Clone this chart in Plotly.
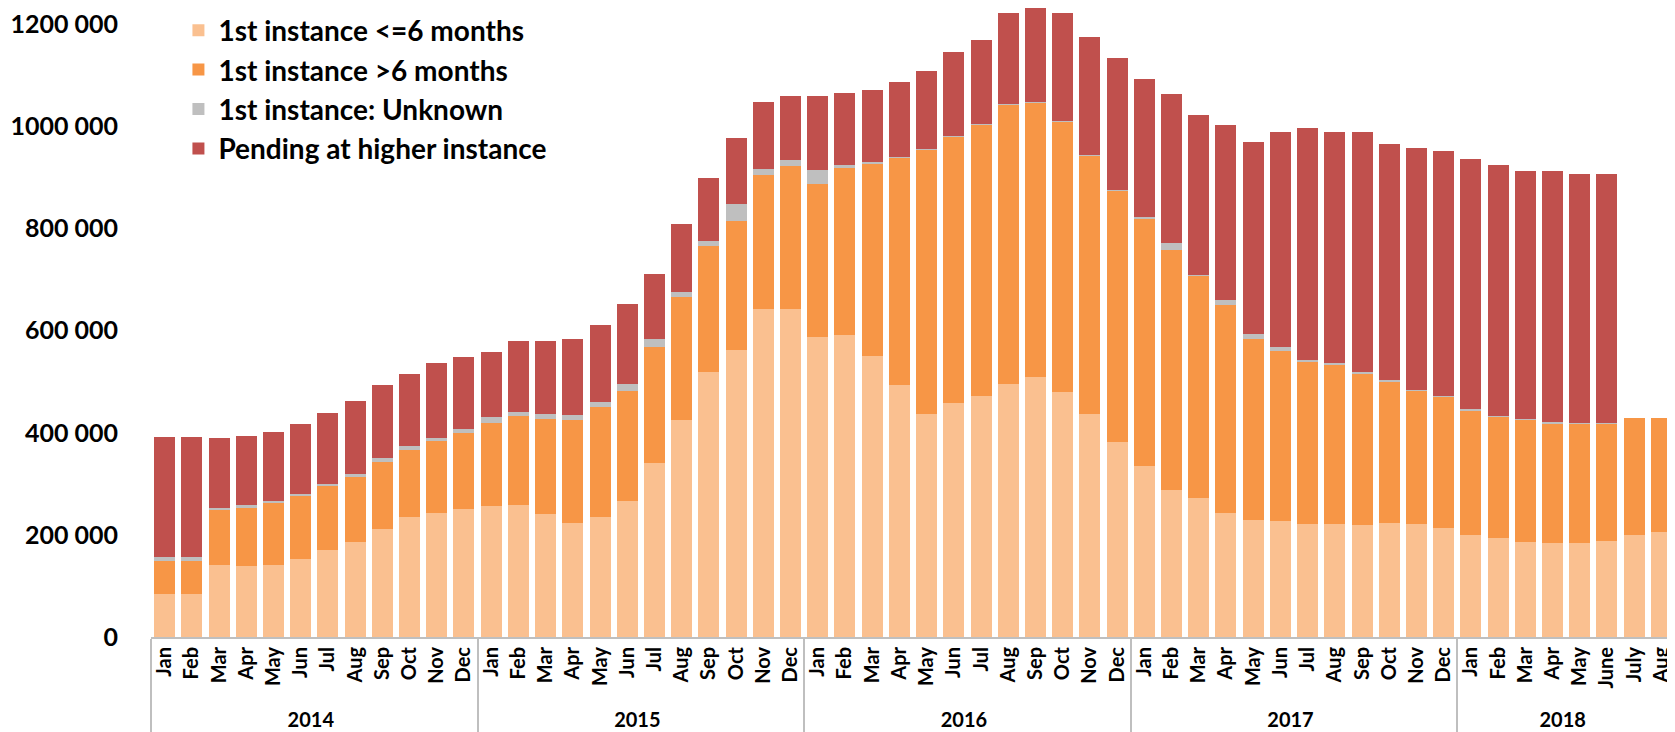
import plotly.graph_objects as go

# Month / year categories (Jan 2014 - Aug 2018)
months_std = ["Jan", "Feb", "Mar", "Apr", "May", "Jun", "Jul", "Aug", "Sep", "Oct", "Nov", "Dec"]
# "Aug\u200b" keeps the 2018 August after June/July on the multicategory axis
months_2018 = ["Jan", "Feb", "Mar", "Apr", "May", "June", "July", "Aug\u200b"]
years = ["2014", "2015", "2016", "2017", "2018"]

# Values in thousands of cases
first_le6 = [
    84, 84, 141, 139, 141, 153, 170, 186, 212, 236, 243, 250,
    257, 259, 240, 224, 236, 267, 340, 425, 520, 563, 643, 643,
    588, 591, 551, 494, 437, 458, 472, 496, 510, 479, 437, 382,
    335, 287, 273, 243, 230, 228, 221, 221, 219, 223, 221, 214,
    199, 194, 187, 185, 185, 189, 199, 205,
]
first_gt6 = [
    64, 64, 107, 113, 122, 124, 125, 128, 130, 130, 140, 149,
    163, 173, 187, 201, 215, 215, 229, 241, 246, 251, 261, 280,
    299, 328, 377, 446, 518, 522, 532, 546, 537, 530, 506, 492,
    485, 471, 436, 407, 354, 332, 319, 311, 297, 278, 261, 257,
    245, 238, 239, 234, 234, 230, 229, 223,
]
first_unknown = [
    9, 9, 5, 7, 4, 4, 4, 6, 9, 9, 6, 9,
    10, 9, 9, 9, 9, 14, 15, 10, 10, 35, 12, 11,
    28, 5, 2, 1, 1, 1, 1, 1, 1, 1, 1, 1,
    2, 13, 1, 11, 9, 9, 3, 4, 4, 3, 2, 1,
    3, 1, 1, 2, 1, 1, 0, 0,
]
higher_instance = [
    235, 235, 136, 135, 134, 137, 140, 143, 143, 141, 148, 140,
    128, 139, 144, 150, 152, 157, 127, 133, 123, 128, 132, 126,
    145, 141, 141, 147, 152, 164, 164, 180, 202, 213, 231, 260,
    270, 293, 312, 341, 376, 420, 454, 453, 469, 461, 473, 479,
    489, 492, 485, 491, 486, 486, 0, 0,
]

y_ticks = [0, 200000, 400000, 600000, 800000, 1000000, 1200000]
y_tick_text = ["0", "200 000", "400 000", "600 000", "800 000", "1000 000", "1200 000"]

x_years, x_months = [], []
for y in years:
    ms = months_2018 if y == "2018" else months_std
    x_years += [y] * len(ms)
    x_months += ms

series = [
    ("1st instance <=6 months", first_le6, "#FAC090"),
    ("1st instance >6 months", first_gt6, "#F79646"),
    ("1st instance: Unknown", first_unknown, "#BFBFBF"),
    ("Pending at higher instance", higher_instance, "#C0504D"),
]

FONT = "Lato, 'Open Sans', sans-serif"

fig = go.Figure()
for name, vals, color in series:
    fig.add_trace(go.Bar(
        x=[x_years, x_months],
        y=[v * 1000 for v in vals],
        name=name,
        marker=dict(color=color, line=dict(width=0)),
    ))

fig.update_layout(
    width=1675, height=732,
    margin=dict(l=143, r=8, t=0, b=103, autoexpand=False),
    barmode="stack", bargap=0.23,
    plot_bgcolor="white", paper_bgcolor="white",
    font=dict(family=FONT, color="black"),
    legend=dict(
        x=0.018, y=1.004, xanchor="left", yanchor="top",
        traceorder="normal",
        font=dict(family=FONT, size=28, weight="bold", color="black"),
        bgcolor="rgba(0,0,0,0)",
    ),
    showlegend=True,
)

fig.update_yaxes(
    range=[0, 1232000], tickvals=y_ticks, ticktext=y_tick_text,
    showgrid=False, zeroline=False, showline=False, ticks="",
    ticklabelstandoff=32,
    tickfont=dict(family=FONT, size=25, weight="bold", color="black"),
)
fig.update_xaxes(
    type="multicategory", tickangle=-90,
    showline=True, linecolor="#BFBFBF", linewidth=2,
    showdividers=True, dividercolor="#BFBFBF", dividerwidth=2,
    ticks="", showgrid=False,
    tickfont=dict(family=FONT, size=20, weight="bold", color="black"),
)

fig.write_html("out.html")
